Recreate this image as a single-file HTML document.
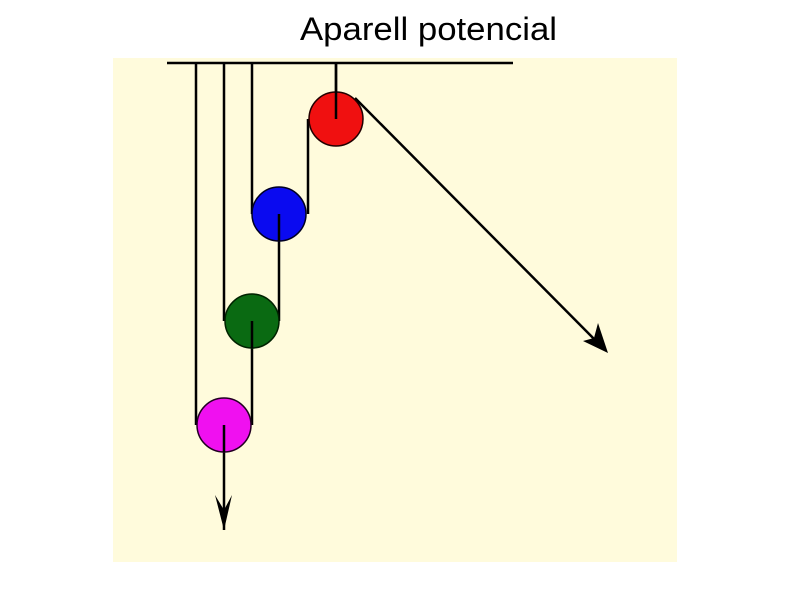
<!DOCTYPE html>
<html><head><style>
body{margin:0;background:#fff;}
svg{display:block}
</style></head><body>
<svg width="800" height="600" xmlns="http://www.w3.org/2000/svg">
<rect x="0" y="0" width="800" height="600" fill="#fff"/>
<rect x="113" y="58" width="564" height="504" fill="#fffbdc"/>
<text x="300" y="40" font-family="Liberation Sans, sans-serif" font-size="32" textLength="257" lengthAdjust="spacingAndGlyphs" fill="#000">Aparell potencial</text>
<g stroke="#000" stroke-width="2.5" fill="none">
<line x1="167" y1="63" x2="513" y2="63"/>
<line x1="336" y1="63" x2="336" y2="119"/>
<line x1="308" y1="119" x2="308" y2="214"/>
<line x1="252" y1="63" x2="252" y2="214"/>
<line x1="279" y1="214" x2="279" y2="321"/>
<line x1="224" y1="63" x2="224" y2="321"/>
<line x1="252" y1="321" x2="252" y2="425"/>
<line x1="196" y1="63" x2="196" y2="425"/>
<line x1="224" y1="425" x2="224" y2="530"/>
<line x1="355" y1="98" x2="604" y2="349"/>
</g>
<circle cx="336" cy="119" r="27" fill="#f01010" stroke="#200" stroke-width="1.5"/>
<circle cx="279" cy="214" r="27" fill="#0a0af0" stroke="#002" stroke-width="1.5"/>
<circle cx="252" cy="321" r="27" fill="#0a6a12" stroke="#020" stroke-width="1.5"/>
<circle cx="224" cy="425" r="27" fill="#f010f0" stroke="#202" stroke-width="1.5"/>
<g stroke="#000" stroke-width="2.5">
<line x1="336" y1="63" x2="336" y2="119"/>
<line x1="279" y1="214" x2="279" y2="241"/>
<line x1="252" y1="321" x2="252" y2="348"/>
<line x1="224" y1="425" x2="224" y2="452"/>
</g>
<polygon points="608,353 583,341 594,338 598,323" fill="#000"/>
<polygon points="224,530 215,495 224,510 232,495" fill="#000"/>
</svg>
</body></html>
